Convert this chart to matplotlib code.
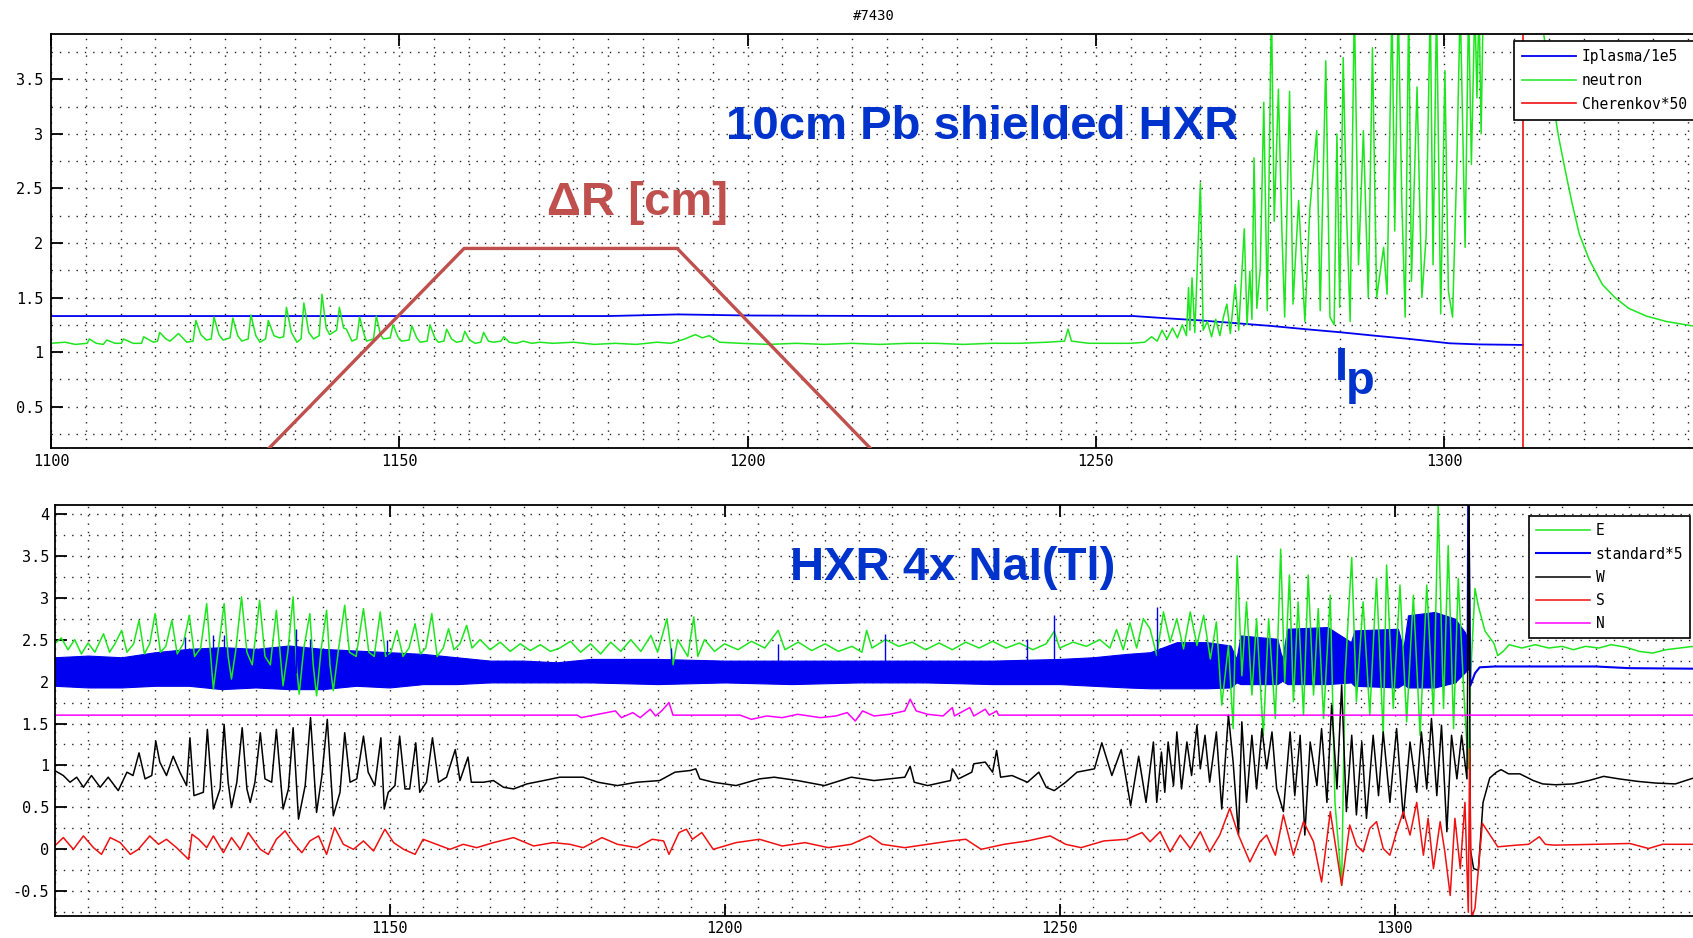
import matplotlib
matplotlib.use('Agg')
from matplotlib import pyplot as plt
from matplotlib.ticker import MultipleLocator, FuncFormatter

plt.rcParams['font.family'] = ['DejaVu Sans Mono']

### top panel: shot #7430, 10cm Pb shielded HXR ###
ip_t = [1100, 1120, 1140, 1160, 1180, 1190, 1200, 1220, 1240, 1250, 1255.4, 1260,
        1265, 1270, 1275, 1280, 1285.3, 1290, 1295, 1300.8, 1305, 1311.3]
ip_y = [1.33, 1.33, 1.33, 1.33, 1.33, 1.345, 1.335, 1.33, 1.33, 1.33, 1.33, 1.31,
        1.29, 1.265, 1.24, 1.21, 1.18, 1.15, 1.12, 1.08, 1.07, 1.065]

neutron_t = [
    1100, 1102, 1103.5, 1105.2, 1105.5, 1106.5, 1107.5, 1108, 1109.2, 1110.1,
    1110.4, 1111.8, 1113, 1113.3, 1114.7, 1115.3, 1115.6, 1116.5, 1117.1, 1118.3,
    1119.5, 1120.4, 1120.8, 1121.5, 1122.3, 1123, 1123.4, 1124.1, 1124.7, 1125.7,
    1126.1, 1126.8, 1127.4, 1128.3, 1128.7, 1129.4, 1130, 1130.8, 1131.2, 1132,
    1132.8, 1133.4, 1133.8, 1134.5, 1135.3, 1135.9, 1136.3, 1137, 1137.7, 1138.5,
    1138.9, 1139.5, 1140, 1141, 1141.4, 1142, 1142.4, 1143.2, 1143.9, 1144.3,
    1145, 1145.3, 1146.3, 1146.7, 1147.3, 1147.7, 1148.7, 1149.1, 1149.8, 1150.3,
    1151.4, 1151.8, 1152.5, 1153, 1154, 1154.4, 1155.1, 1155.6, 1156.4, 1156.8,
    1157.5, 1158.2, 1159, 1159.4, 1160.1, 1160.9, 1161.7, 1162.1, 1162.8, 1163.5,
    1164.6, 1165, 1165.8, 1166.8, 1167.8, 1169, 1170.2, 1172, 1175, 1178,
    1181, 1184, 1187, 1189, 1191, 1192.5, 1193.5, 1194.5, 1196, 1199,
    1203, 1207, 1211, 1215, 1219, 1223, 1227, 1231, 1235, 1239,
    1243, 1245.5, 1246, 1246.5, 1249, 1252, 1255, 1257, 1258, 1258.8,
    1259.5, 1260.2, 1261, 1261.7, 1262.4, 1263, 1263.3, 1263.5, 1263.8, 1264.2,
    1265, 1265.4, 1266, 1266.6, 1267.2, 1267.8, 1268.3, 1268.8, 1269.3, 1270,
    1270.5, 1271.3, 1271.7, 1272.1, 1272.4, 1272.7, 1273.1, 1273.6, 1274.1, 1274.6,
    1275.2, 1275.6, 1276.2, 1276.7, 1277.1, 1277.8, 1278.3, 1279.1, 1280, 1280.7,
    1281.7, 1282.2, 1283, 1283.6, 1284.2, 1284.6, 1285, 1285.5, 1286, 1286.5,
    1287.1, 1287.7, 1288.4, 1289.1, 1289.7, 1290.3, 1291.3, 1291.8, 1292.5, 1292.9,
    1293.4, 1293.9, 1294.4, 1294.9, 1295.3, 1296.1, 1296.8, 1297.4, 1298, 1298.4,
    1298.9, 1299.5, 1300.1, 1300.6, 1301.2, 1301.8, 1302.3, 1303, 1303.5, 1303.9,
    1304.4, 1304.7, 1305, 1305.3, 1305.6, 1313, 1314.3, 1315, 1315.6, 1316.4,
    1317.3, 1318.3, 1319.4, 1320.8, 1322.7, 1324.5, 1326.5, 1329, 1331.9, 1335.6,
    1340, 1350]
neutron_y = [
    1.08, 1.09, 1.07, 1.08, 1.12, 1.08, 1.07, 1.11, 1.08, 1.08,
    1.12, 1.08, 1.08, 1.14, 1.09, 1.10, 1.18, 1.12, 1.10, 1.17,
    1.09, 1.10, 1.29, 1.16, 1.11, 1.12, 1.32, 1.16, 1.11, 1.13,
    1.31, 1.15, 1.10, 1.12, 1.34, 1.15, 1.09, 1.12, 1.29, 1.15,
    1.13, 1.14, 1.41, 1.18, 1.09, 1.12, 1.45, 1.18, 1.12, 1.15,
    1.53, 1.22, 1.16, 1.20, 1.41, 1.22, 1.21, 1.10, 1.12, 1.32,
    1.15, 1.10, 1.12, 1.33, 1.16, 1.12, 1.13, 1.25, 1.14, 1.10,
    1.11, 1.24, 1.13, 1.09, 1.10, 1.25, 1.13, 1.09, 1.10, 1.21,
    1.12, 1.09, 1.10, 1.19, 1.11, 1.08, 1.09, 1.18, 1.10, 1.09,
    1.10, 1.14, 1.09, 1.08, 1.10, 1.08, 1.09, 1.08, 1.09, 1.07,
    1.08, 1.07, 1.09, 1.08, 1.12, 1.16, 1.13, 1.15, 1.09, 1.08,
    1.07, 1.08, 1.07, 1.08, 1.07, 1.08, 1.08, 1.07, 1.08, 1.08,
    1.09, 1.10, 1.21, 1.10, 1.08, 1.08, 1.08, 1.09, 1.14, 1.10,
    1.20, 1.12, 1.22, 1.13, 1.25, 1.15, 1.59, 1.20, 1.68, 1.18,
    2.55, 1.20, 1.28, 1.14, 1.30, 1.15, 1.32, 1.44, 1.17, 1.62,
    1.20, 2.13, 1.25, 1.74, 1.30, 2.78, 1.40, 1.77, 3.29, 1.38,
    4.20, 2.20, 3.41, 2.11, 1.32, 3.39, 1.44, 2.39, 1.28, 2.30,
    3.03, 1.38, 3.67, 1.32, 1.25, 3.00, 1.41, 3.70, 2.23, 1.28,
    4.20, 1.80, 3.03, 1.50, 3.79, 1.50, 1.96, 1.53, 4.20, 2.11,
    4.20, 2.42, 1.32, 4.20, 1.65, 3.43, 1.50, 2.05, 4.20, 1.80,
    4.20, 1.35, 3.58, 1.56, 1.32, 2.69, 4.20, 1.96, 4.20, 2.72,
    4.20, 3.33, 4.20, 3.00, 4.20, 4.50, 3.91, 3.58, 3.30, 2.98,
    2.69, 2.38, 2.08, 1.85, 1.62, 1.50, 1.40, 1.33, 1.28, 1.24,
    1.21, 1.16]

cher_t = [1100, 1311.3, 1311.3, 1350]
cher_y = [0, 0, 60, 60]

# delta R trapezoid (drawn on the same axes)
dr_t = [1129.5, 1159.3, 1189.9, 1219.4]
dr_y = [0, 1.95, 1.95, 0]

### bottom panel: HXR 4x NaI(Tl) ###
e_t = [
    1100, 1101, 1102, 1103, 1104, 1105, 1106, 1107.3, 1108.2, 1109,
    1110, 1110.8, 1111.8, 1112.6, 1113.4, 1114.2, 1115, 1115.8, 1116.6, 1117.5,
    1118.3, 1119.2, 1120.1, 1120.9, 1121.8, 1122.7, 1123.3, 1123.7, 1124.3, 1125.3,
    1125.9, 1126.4, 1127, 1127.9, 1128.7, 1129.5, 1130.6, 1131.4, 1132.2, 1133.1,
    1133.7, 1134.1, 1134.8, 1135.6, 1136.1, 1136.5, 1137.2, 1138.1, 1138.6, 1139.1,
    1139.8, 1140.6, 1141.1, 1141.6, 1142.4, 1143.3, 1144, 1145, 1146.1, 1146.9,
    1147.7, 1148.6, 1149.4, 1150.2, 1151.1, 1152, 1152.9, 1153.8, 1154.6, 1155.4,
    1156.3, 1157.1, 1158, 1158.8, 1159.6, 1160.5, 1161.5, 1162.3, 1163.5, 1165,
    1166.5, 1168, 1169.5, 1171, 1172.5, 1174,
    1175.4, 1177, 1178.5, 1180, 1181.5, 1183, 1184.5, 1186, 1187.5, 1189,
    1190, 1191.4, 1192.3, 1193, 1194.5, 1195.4, 1196, 1197, 1198.5, 1200,
    1202, 1204, 1206, 1208, 1209, 1211, 1213, 1215, 1217, 1219,
    1220.5, 1221.2, 1222, 1224, 1226, 1228, 1230, 1232, 1234, 1236,
    1238, 1240, 1242, 1244, 1246, 1248, 1249.2, 1250, 1252, 1254,
    1256, 1257.5, 1258.5, 1259.5, 1260.5, 1261.5, 1262.5,
    1263.5, 1264.5, 1265.5, 1266.5, 1267.5, 1268.5, 1269.5, 1270.5, 1271.5, 1272.5,
    1273.4, 1274.2, 1275.2, 1275.9, 1276.5, 1277.2, 1277.9, 1278.7, 1279.4, 1280.4,
    1281.2, 1282.2, 1283, 1283.6, 1284.3, 1284.9, 1285.6, 1286.4, 1287.1, 1287.9,
    1288.6, 1289.4, 1290.4, 1291.1, 1292.1, 1292.6, 1293.6, 1294.3, 1295.3, 1296.3,
    1297.3, 1298.3, 1298.8, 1299.8, 1300.8, 1301.8, 1302.8, 1303.8, 1304.8, 1305.8,
    1306.5, 1307.3, 1308, 1308.8, 1309.5, 1310.3, 1311,
    1311.3, 1312, 1312.5, 1313.5, 1314.8, 1315.4, 1316.2, 1317.1, 1319, 1321,
    1323, 1325, 1326.7, 1328.5, 1330.5, 1332.3, 1334.5, 1336.5, 1338.5, 1340.5,
    1342.5, 1344.6, 1350]
e_y = [
    2.45, 2.52, 2.38, 2.50, 2.33, 2.46, 2.35, 2.57, 2.35, 2.45,
    2.61, 2.35, 2.45, 2.73, 2.33, 2.45, 2.81, 2.35, 2.42, 2.73,
    2.33, 2.45, 2.79, 2.30, 2.40, 2.93, 2.30, 1.91, 2.30, 2.93,
    2.30, 2.03, 2.35, 3.01, 2.35, 2.20, 2.97, 2.30, 2.20, 2.85,
    2.30, 1.95, 2.35, 3.01, 2.20, 1.85, 2.40, 2.81, 2.20, 1.83,
    2.40, 2.85, 2.20, 1.89, 2.40, 2.91, 2.35, 2.30, 2.87, 2.35,
    2.30, 2.83, 2.30, 2.35, 2.61, 2.30, 2.40, 2.69, 2.33, 2.40,
    2.81, 2.30, 2.40, 2.63, 2.38, 2.45, 2.67, 2.40, 2.50, 2.38,
    2.47, 2.36, 2.45, 2.37, 2.44, 2.36,
    2.40, 2.48, 2.35, 2.45, 2.33, 2.47, 2.36, 2.50, 2.36, 2.55,
    2.35, 2.75, 2.20, 2.50, 2.30, 2.77, 2.30, 2.50, 2.36, 2.45,
    2.38, 2.48, 2.40, 2.61, 2.38, 2.47, 2.37, 2.45, 2.36, 2.42,
    2.35, 2.61, 2.40, 2.50, 2.42, 2.47, 2.38, 2.46, 2.38, 2.47,
    2.40, 2.48, 2.40, 2.46, 2.38, 2.45, 2.60, 2.40, 2.47, 2.42,
    2.50, 2.40, 2.62, 2.38, 2.70, 2.40, 2.75,
    2.63, 2.31, 2.83, 2.47, 2.75, 2.39, 2.83, 2.43, 2.79, 2.27,
    2.71, 1.72, 2.43, 1.44, 3.50, 2.07, 2.95, 1.84, 2.75, 1.36,
    2.75, 1.56, 3.58, 1.99, 3.27, 1.76, 2.95, 1.60, 3.27, 1.84,
    2.87, 1.56, 3.03, 0.56, -0.43, 2.07, 3.48, 1.76, 2.95, 1.60,
    3.23, 1.36, 3.39, 1.68, 3.15, 1.52, 3.03, 1.36, 3.15, 1.60,
    4.10, 1.68, 3.62, 1.44, 3.23, 1.92, 0.96,
    2.00, 3.11, 2.90, 2.60, 2.46, 2.31, 2.36, 2.44, 2.40, 2.44,
    2.40, 2.42, 2.38, 2.42, 2.40, 2.44, 2.41, 2.36, 2.34, 2.38,
    2.40, 2.42, 2.42]

# standard*5: dense oscillation read as a lower / upper envelope
std_t = [1100, 1105, 1110, 1115, 1120, 1125, 1130, 1135, 1140, 1145,
         1150, 1155, 1160, 1165, 1170, 1175, 1180, 1190, 1200, 1210,
         1220, 1230, 1240, 1250, 1255, 1260, 1263.5, 1267.5, 1272, 1275.5,
         1276.4, 1277, 1282.5, 1283.2, 1284, 1290, 1293.5, 1294, 1300.5, 1301.3,
         1302, 1306, 1309, 1310.5, 1311]
std_lo = [1.95, 1.93, 1.93, 1.95, 1.95, 1.91, 1.93, 1.91, 1.91, 1.95,
          1.93, 1.97, 1.97, 1.99, 1.99, 1.99, 1.99, 1.97, 1.99, 1.97,
          1.99, 1.99, 1.97, 1.97, 1.95, 1.93, 1.92, 1.92, 1.92, 1.93,
          1.99, 1.97, 1.97, 2.01, 1.97, 1.97, 1.99, 1.95, 1.93, 1.97,
          1.93, 1.93, 1.99, 2.11, 2.15]
std_hi = [2.29, 2.31, 2.29, 2.35, 2.39, 2.41, 2.39, 2.43, 2.39, 2.37,
          2.35, 2.33, 2.29, 2.25, 2.25, 2.23, 2.27, 2.27, 2.25, 2.25,
          2.25, 2.25, 2.25, 2.27, 2.29, 2.33, 2.35, 2.47, 2.47, 2.43,
          2.27, 2.55, 2.51, 2.27, 2.63, 2.65, 2.47, 2.61, 2.63, 2.39,
          2.79, 2.83, 2.75, 2.59, 2.47]
std_spike_t = [1119.5, 1123.7, 1125.3, 1136.1, 1138.1, 1149.6, 1192, 1208, 1224, 1245.2, 1249.2, 1264.6]
std_spike_y = [2.53, 2.55, 2.55, 2.63, 2.51, 2.49, 2.40, 2.45, 2.57, 2.51, 2.79, 2.89]
std_tail_t = [1310.9, 1311.0, 1311.3, 1312, 1312.7, 1315, 1330, 1335, 1350]
std_tail_y = [2.30, 4.50, 1.95, 2.10, 2.17, 2.18, 2.18, 2.16, 2.15]

w_t = [
    1100, 1101.3, 1102.3, 1103.3, 1104.3, 1105.5, 1106.8, 1108, 1109.5, 1110.8,
    1111.7, 1112.6, 1113.5, 1114.5, 1115.1, 1115.7, 1116.7, 1117.7, 1118.7, 1119.7,
    1120.2, 1120.8, 1122.2, 1122.8, 1123.3, 1123.7, 1124.7, 1125.3, 1125.9, 1126.4,
    1127.2, 1128, 1128.7, 1129.2, 1129.9, 1130.7, 1131.4, 1132.4, 1133.1, 1134.1,
    1134.9, 1135.6, 1136.4, 1137.4, 1138.2, 1139.1, 1139.9, 1140.7, 1141.6, 1142.6,
    1143.3, 1144.1, 1145.1, 1146.1, 1146.8, 1147.8, 1148.7, 1149.2, 1149.8, 1150.8,
    1151.5, 1152.3, 1153, 1153.9, 1154.5, 1155.5, 1156.4, 1157.3, 1158.5, 1159.8,
    1160.5, 1161.7, 1162.2, 1164, 1165.5, 1167, 1168.5, 1170.5, 1173,
    1175.4, 1178.9, 1181.1, 1184, 1186.9, 1190.3, 1192.6, 1194.9, 1195.7, 1196.3,
    1198.3, 1201.7, 1205.2, 1207.4, 1210.9, 1214.9, 1218.9, 1222.3, 1226.9, 1227.7,
    1228.3, 1230.3, 1233.7, 1234, 1234.9, 1236.9, 1237.2, 1238.9, 1240, 1240.6,
    1241.2, 1242.9, 1245.2, 1246.9, 1248, 1249.2, 1250.9, 1252.6, 1255.2, 1256.3,
    1257.8, 1259.2, 1260.6, 1261.8, 1262.9,
    1264, 1264.5, 1265.2, 1265.7, 1266.2, 1267, 1267.5, 1268.2, 1269, 1269.7,
    1270.5, 1271, 1271.7, 1272.4, 1273.4, 1274.2, 1275.2, 1275.9, 1276.7, 1277.2,
    1277.9, 1278.7, 1279.4, 1280.2, 1280.9, 1281.7, 1282.4, 1283.4, 1284.4, 1285.1,
    1285.9, 1286.6, 1287.4, 1288.4, 1289.1, 1289.9, 1290.6, 1291.4, 1292.1, 1292.8,
    1293.6, 1294.3, 1295.1, 1295.8, 1296.8, 1297.6, 1298.3, 1299.3, 1300.3, 1301.3,
    1302.3, 1303.3, 1304, 1304.8, 1305.5, 1306.3, 1307, 1307.8, 1308.5, 1309.3,
    1310, 1310.8, 1311.1,
    1311.3, 1311.8, 1312.5, 1313.2, 1314.2, 1315.2, 1315.9, 1317, 1318.7, 1320.7,
    1322.1, 1324, 1326.7, 1329, 1331.2, 1333.5, 1336.3, 1339, 1341.9, 1344.6, 1350]
w_y = [
    0.94, 0.88, 0.80, 0.86, 0.74, 0.88, 0.74, 0.86, 0.70, 0.92,
    0.88, 1.15, 0.84, 0.88, 1.29, 1.04, 0.88, 1.11, 0.92, 0.76,
    1.33, 0.64, 0.68, 1.43, 0.88, 0.48, 0.72, 1.49, 0.80, 0.50,
    0.80, 1.45, 0.72, 0.56, 0.80, 1.39, 0.84, 0.80, 1.43, 0.48,
    0.72, 1.45, 0.36, 0.76, 1.57, 0.44, 0.88, 1.55, 0.40, 0.68,
    1.39, 0.80, 0.84, 1.35, 0.92, 0.76, 1.33, 0.48, 0.68, 0.76,
    1.35, 0.72, 0.72, 1.27, 0.68, 0.80, 1.33, 0.80, 0.86, 1.19,
    0.82, 1.10, 0.80, 0.80, 0.82, 0.74, 0.72, 0.78, 0.82,
    0.86, 0.86, 0.80, 0.76, 0.80, 0.82, 0.92, 0.94, 0.96, 0.84,
    0.80, 0.76, 0.84, 0.86, 0.82, 0.76, 0.86, 0.82, 0.86, 0.99,
    0.80, 0.76, 0.82, 0.96, 0.84, 0.92, 1.02, 1.04, 0.92, 1.18,
    0.86, 0.88, 0.80, 0.92, 0.74, 0.70, 0.80, 0.92, 0.96, 1.27,
    0.88, 1.19, 0.52, 1.11, 0.56,
    1.28, 0.56, 1.16, 0.68, 1.28, 0.76, 1.40, 0.72, 1.28, 0.88,
    1.48, 0.96, 1.36, 0.80, 1.40, 0.48, 1.60, 1.04, 0.17, 1.52,
    0.56, 1.36, 0.72, 1.44, 0.96, 1.40, 0.72, 0.45, 1.40, 0.64,
    1.36, 0.17, 1.28, 0.76, 1.44, 0.56, 1.72, 0.72, 1.96, 0.45,
    1.36, 0.41, 1.28, 0.37, 1.36, 0.64, 1.40, 0.56, 1.44, 0.37,
    1.28, 0.68, 1.40, 0.72, 1.56, 0.64, 1.48, 0.21, 1.36, 0.84,
    1.36, 0.84, 4.50,
    0.00, -0.23, -0.25, 0.56, 0.85, 0.92, 0.95, 0.90, 0.90, 0.82,
    0.78, 0.77, 0.78, 0.82, 0.87, 0.84, 0.81, 0.79, 0.78, 0.85, 0.85]

s_t = [
    1100, 1101.3, 1102.8, 1104.3, 1105.8, 1107, 1108.3, 1109.8, 1111.3, 1112.5,
    1114.2, 1115.5, 1116.7, 1118.2, 1120, 1120.5, 1121.5, 1122.7, 1123.7, 1125.2,
    1126.4, 1127.7, 1128.9, 1130.7, 1131.9, 1133.1, 1134.4, 1135.6, 1136.9, 1138.1,
    1139.4, 1140.6, 1141.8, 1143.1, 1144.6, 1146.1, 1147.6, 1149.3, 1150.6, 1152.1,
    1153.8, 1155, 1157, 1159, 1161, 1163, 1165.5, 1168.5, 1171.5, 1174.4,
    1176.9,
    1178.9, 1181.7, 1184, 1186.9, 1189.2, 1190.9, 1191.7, 1193.2, 1194.3, 1195.2,
    1196.6, 1198.3, 1201.7, 1205.2, 1208.6, 1212, 1215.5, 1218.9, 1221.7, 1223.5,
    1226.9, 1230.3, 1233.7, 1236, 1238.3, 1241.7, 1245.2, 1248.6, 1250.9, 1253.2,
    1256.6, 1260, 1262.3,
    1263.5, 1265, 1266.5, 1268, 1269.5, 1271, 1272.4, 1273.9, 1275.4, 1276.7,
    1278.4, 1279.9, 1280.9, 1282.2, 1283.4, 1284.9, 1286.4, 1287.9, 1289.1, 1290.4,
    1292.1, 1293.3, 1294.3, 1295.3, 1296.3, 1297.3, 1298.3, 1299.3, 1300.3, 1301.3,
    1302.3, 1303.3, 1304.3, 1305, 1305.8, 1306.8, 1307.5, 1308.3, 1309, 1309.8,
    1310.5, 1311,
    1311.2, 1311.5, 1312, 1313.1, 1314, 1315.4, 1318.2, 1320, 1321.6, 1322.5,
    1323.8, 1330, 1335.1, 1337.9, 1340, 1344.6, 1350]
s_y = [
    0.04, 0.14, 0.00, 0.16, 0.02, -0.06, 0.14, 0.08, -0.06, 0.00,
    0.16, 0.06, 0.12, 0.02, -0.12, 0.18, 0.12, 0.02, 0.16, -0.04,
    0.14, 0.00, 0.20, 0.00, -0.06, 0.12, 0.22, 0.08, -0.04, 0.10,
    0.16, -0.06, 0.26, 0.06, 0.00, 0.10, -0.02, 0.24, 0.08, 0.00,
    -0.06, 0.12, 0.06, 0.00, 0.06, 0.02, 0.08, 0.14, 0.04, 0.08,
    0.06,
    0.02, 0.14, 0.06, 0.02, 0.12, 0.10, -0.06, 0.20, 0.24, 0.12,
    0.20, 0.00, 0.08, 0.12, 0.04, 0.08, 0.02, 0.06, 0.16, 0.06,
    0.02, 0.06, 0.10, 0.12, 0.00, 0.06, 0.10, 0.16, 0.06, 0.02,
    0.10, 0.12, 0.20,
    0.09, 0.21, -0.03, 0.17, 0.01, 0.21, -0.03, 0.17, 0.49, 0.17,
    -0.15, 0.09, 0.17, -0.07, 0.41, -0.07, 0.33, 0.09, -0.39, 0.45,
    -0.43, 0.29, 0.05, -0.03, 0.25, 0.33, 0.01, -0.07, 0.21, 0.45,
    0.17, 0.56, -0.07, 0.37, -0.23, 0.33, -0.03, -0.55, 0.37, -0.23,
    0.56, -0.75,
    1.20, -0.82, -0.70, 0.31, 0.20, 0.03, 0.05, 0.06, 0.15, 0.06,
    0.05, 0.06, 0.07, 0.01, 0.06, 0.06, 0.06]

n_t = [1100, 1178, 1178.6, 1181.1, 1183.7, 1184.6, 1186.3, 1187.4, 1188.9, 1189.7,
       1190.6, 1191.7, 1192.3, 1202.3, 1204, 1206.3, 1208.6, 1210.9, 1214.3, 1216.6,
       1218.3, 1219.5, 1220.6, 1222.3, 1224.6, 1226.9, 1227.7, 1228.6, 1230.3, 1232.6,
       1234, 1234.3, 1236.6, 1237.2, 1238.9, 1239.5, 1240.6, 1240.9, 1350]
n_y = [1.60, 1.60, 1.57, 1.61, 1.65, 1.57, 1.63, 1.57, 1.67, 1.59,
       1.65, 1.75, 1.60, 1.60, 1.55, 1.59, 1.57, 1.61, 1.57, 1.59,
       1.63, 1.53, 1.65, 1.59, 1.61, 1.65, 1.79, 1.65, 1.61, 1.59,
       1.69, 1.59, 1.69, 1.59, 1.67, 1.60, 1.65, 1.60, 1.60]

BLUE = '#0000f0'
GREEN = '#1ee61e'
RED = '#f01010'
W, H = 1693, 938


def px(x, y):
    # pixel position in the figure -> figure fraction
    return x / W, 1 - y / H


fig = plt.figure(figsize=(16.93, 9.38), dpi=100)
# both panels run past the right edge of the picture, as in the original
ax1 = fig.add_axes([51 / W, 1 - 448 / H, 250 * 6.966 / W, (448 - 33.6) / H])
ax2 = fig.add_axes([54.6 / W, 1 - 915.6 / H, 250 * 6.70 / W, (915.6 - 504.6) / H])


def style(ax, ylim, xticks, ypad):
    ax.set_xlim(1100, 1350)
    ax.set_ylim(*ylim)
    ax.set_xticks(xticks)
    ax.xaxis.set_minor_locator(MultipleLocator(5))
    ax.yaxis.set_major_locator(MultipleLocator(0.5))
    ax.yaxis.set_minor_locator(MultipleLocator(0.25))
    fmt = FuncFormatter(lambda v, p: f'{v:g}')
    ax.xaxis.set_major_formatter(fmt)
    ax.yaxis.set_major_formatter(fmt)
    ax.grid(which='both', color='#222222', linestyle=(0, (1, 5)), linewidth=1.0)
    ax.set_axisbelow(True)
    ax.tick_params(which='major', direction='in', length=8.5, width=1.3,
                   top=True, right=True, labelsize=11)
    ax.tick_params(which='minor', length=0)
    ax.tick_params(axis='x', pad=4)
    ax.tick_params(axis='y', pad=ypad)
    for s in ax.spines.values():
        s.set_linewidth(1.3)


# the 1350 tick sits beyond the picture edge, so only up to 1300
style(ax1, (0.12, 3.92), [1100, 1150, 1200, 1250, 1300], 5.5)
style(ax2, (-0.79, 4.11), [1150, 1200, 1250, 1300], 4)

# top panel
l_ip, = ax1.plot(ip_t, ip_y, color=BLUE, lw=1.3, label='Iplasma/1e5')
l_n, = ax1.plot(neutron_t, neutron_y, color=GREEN, lw=1.1, label='neutron')
l_c, = ax1.plot(cher_t, cher_y, color=RED, lw=1.2, label='Cherenkov*50')
ax1.plot(dr_t, dr_y, color='#c0504d', lw=2.4, zorder=4)
leg1 = ax1.legend(handles=[l_ip, l_n, l_c], loc='upper left', bbox_to_anchor=(0.840, 0.982),
                  borderaxespad=0, prop=dict(family='DejaVu Sans Mono', size=10.5),
                  handlelength=3.7, handletextpad=0.4, labelspacing=0.6, borderpad=0.55,
                  fancybox=False, framealpha=1, edgecolor='k')
leg1.get_frame().set_linewidth(1.2)

# bottom panel
l_e, = ax2.plot(e_t, e_y, color=GREEN, lw=1.1, label='E')
ax2.fill_between(std_t, std_lo, std_hi, color=BLUE, lw=0.8)
ax2.vlines(std_spike_t, 2.1, std_spike_y, color=BLUE, lw=1.0)
l_s5, = ax2.plot(std_tail_t, std_tail_y, color=BLUE, lw=1.5, label='standard*5')
l_w, = ax2.plot(w_t, w_y, color='k', lw=1.1, label='W')
l_s, = ax2.plot(s_t, s_y, color=RED, lw=1.1, label='S')
l_nn, = ax2.plot(n_t, n_y, color='#ff00ff', lw=1.1, label='N')
leg2 = ax2.legend(handles=[l_e, l_s5, l_w, l_s, l_nn], loc='upper left', bbox_to_anchor=(0.880, 0.972),
                  borderaxespad=0, prop=dict(family='DejaVu Sans Mono', size=10.5),
                  handlelength=3.7, handletextpad=0.4, labelspacing=0.56, borderpad=0.5,
                  fancybox=False, framealpha=1, edgecolor='k')
leg2.get_frame().set_linewidth(1.2)

# labels pasted on the slide
fig.text(*px(874, 16), '#7430', ha='center', va='center', fontsize=10)
txt = dict(family='Liberation Sans', fontweight='bold', fontsize=34, va='baseline')
fig.text(*px(726, 139), '10cm Pb shielded HXR', color='#0033cc', **txt)
fig.text(*px(547, 215), '\u0394R [cm]', color='#c0504d', **txt)
fig.text(*px(1335, 380), 'I', color='#0033cc', **txt)
fig.text(*px(1346, 394), 'p', color='#0033cc', **txt)
fig.text(*px(790, 580), 'HXR 4x NaI(Tl)', color='#0033cc', **txt)

fig.savefig('out.png', dpi=100)
